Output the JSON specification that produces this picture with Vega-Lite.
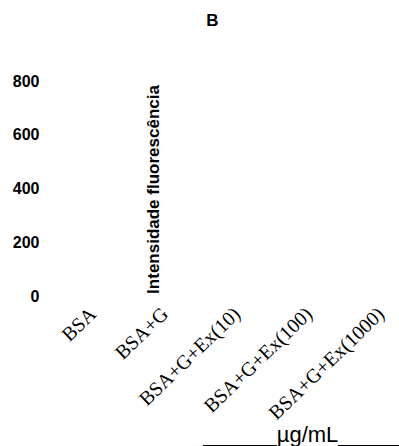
{
  "$schema": "https://vega.github.io/schema/vega-lite/v6.json",
  "width": 316,
  "height": 215,
  "autosize": {"type": "none"},
  "padding": {"left": 83, "top": 81, "right": 0, "bottom": 150},
  "title": {
    "text": "B",
    "font": "Liberation Sans",
    "fontSize": 17,
    "fontWeight": "bold",
    "color": "#000000",
    "anchor": "middle",
    "baseline": "alphabetic",
    "offset": 30,
    "dx": -28.5
  },
  "data": {
    "values": [
      {"grupo": "BSA", "intensidade": null},
      {"grupo": "BSA+G", "intensidade": null},
      {"grupo": "BSA+G+Ex(10)", "intensidade": null},
      {"grupo": "BSA+G+Ex(100)", "intensidade": null},
      {"grupo": "BSA+G+Ex(1000)", "intensidade": null}
    ]
  },
  "mark": {"type": "bar", "color": "#000000"},
  "encoding": {
    "x": {
      "field": "grupo",
      "type": "nominal",
      "sort": null,
      "scale": {
        "type": "point",
        "padding": 0.1944,
        "domain": ["BSA", "BSA+G", "BSA+G+Ex(10)", "BSA+G+Ex(100)", "BSA+G+Ex(1000)"]
      },
      "axis": {
        "title": "______µg/mL_____",
        "titleFont": "Liberation Sans",
        "titleFontSize": 22,
        "titleFontWeight": "normal",
        "titleColor": "#000000",
        "titleAnchor": "end",
        "titleAlign": "right",
        "titleBaseline": "alphabetic",
        "titleY": 145,
        "labelAngle": -44,
        "labelAlign": "right",
        "labelBaseline": "alphabetic",
        "labelPadding": 19,
        "labelFont": "Liberation Serif",
        "labelFontSize": 20,
        "labelColor": "#000000",
        "labelOverlap": false,
        "domain": false,
        "ticks": false,
        "tickSize": 0,
        "grid": false
      }
    },
    "y": {
      "field": "intensidade",
      "type": "quantitative",
      "scale": {"domain": [0, 800], "nice": false},
      "axis": {
        "values": [0, 200, 400, 600, 800],
        "title": "Intensidade fluorescência",
        "titleFont": "Liberation Sans",
        "titleFontSize": 17,
        "titleFontWeight": "bold",
        "titleColor": "#000000",
        "titleAngle": -90,
        "titleAlign": "center",
        "titleBaseline": "alphabetic",
        "titleX": 119,
        "titleY": 108,
        "offset": 44,
        "labelPadding": 0,
        "labelFont": "Liberation Sans",
        "labelFontSize": 16,
        "labelFontWeight": "bold",
        "labelColor": "#000000",
        "domain": false,
        "ticks": false,
        "tickSize": 0,
        "grid": false
      }
    }
  },
  "config": {"view": {"stroke": null}}
}
